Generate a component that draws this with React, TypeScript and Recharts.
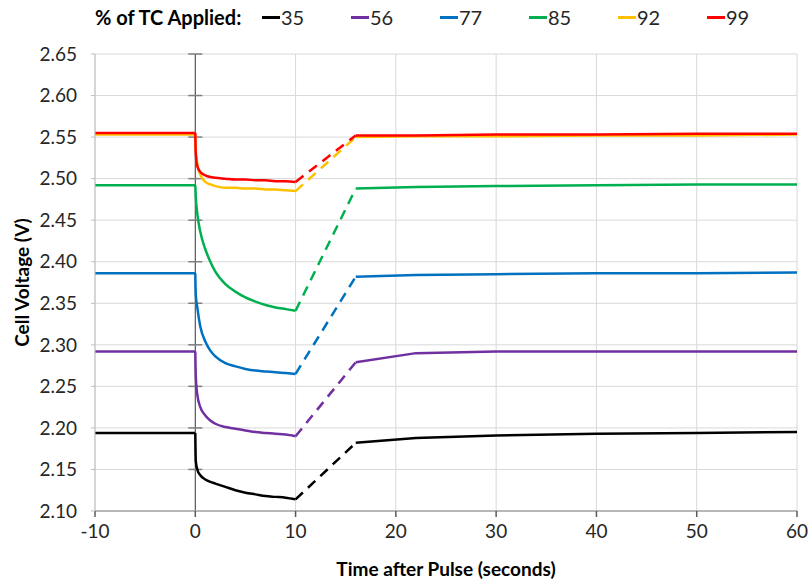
import React from "react";
import {
  LineChart,
  Line,
  XAxis,
  YAxis,
  CartesianGrid,
  ReferenceLine,
} from "recharts";

// time stamps (seconds after pulse)
const preTimes = [-10, 0];
const pulseTimes = [0, 0.05, 0.2, 0.5, 1, 1.5, 2, 3, 4, 5, 6, 7, 8, 9, 10];
const recoveryTimes = [16, 22, 30, 40, 50, 60];

const xTicks = [-10, 0, 10, 20, 30, 40, 50, 60];
const yTicks = [2.1, 2.15, 2.2, 2.25, 2.3, 2.35, 2.4, 2.45, 2.5, 2.55, 2.6, 2.65];

const seriesNames = ["35", "56", "77", "85", "92", "99"];
const seriesColors = ["#000000", "#7030a0", "#0070c0", "#00b050", "#ffc000", "#ff0000"];

const baseline35 = 2.194;
const pulse35 = [2.194, 2.16, 2.15, 2.143, 2.138, 2.135, 2.133, 2.129, 2.125, 2.122, 2.12, 2.118, 2.117, 2.116, 2.114];
const recovery35 = [2.182, 2.188, 2.191, 2.193, 2.194, 2.195];

const baseline56 = 2.292;
const pulse56 = [2.292, 2.262, 2.24, 2.225, 2.215, 2.209, 2.205, 2.201, 2.199, 2.197, 2.195, 2.194, 2.193, 2.192, 2.19];
const recovery56 = [2.279, 2.29, 2.292, 2.292, 2.292, 2.292];

const baseline77 = 2.386;
const pulse77 = [2.386, 2.36, 2.345, 2.322, 2.304, 2.293, 2.286, 2.278, 2.274, 2.271, 2.269, 2.268, 2.267, 2.266, 2.265];
const recovery77 = [2.382, 2.384, 2.385, 2.386, 2.386, 2.387];

const baseline85 = 2.492;
const pulse85 = [2.492, 2.478, 2.458, 2.436, 2.415, 2.4, 2.388, 2.373, 2.364, 2.357, 2.352, 2.348, 2.345, 2.343, 2.341];
const recovery85 = [2.488, 2.49, 2.491, 2.492, 2.493, 2.493];

const baseline92 = 2.553;
const pulse92 = [2.553, 2.535, 2.518, 2.505, 2.496, 2.493, 2.491, 2.489, 2.489, 2.488, 2.488, 2.487, 2.487, 2.486, 2.485];
const recovery92 = [2.55, 2.551, 2.551, 2.552, 2.552, 2.553];

const baseline99 = 2.555;
const pulse99 = [2.555, 2.53, 2.515, 2.508, 2.504, 2.502, 2.501, 2.5, 2.499, 2.499, 2.498, 2.498, 2.497, 2.497, 2.496];
const recovery99 = [2.552, 2.552, 2.553, 2.553, 2.554, 2.554];

const baselines = [baseline35, baseline56, baseline77, baseline85, baseline92, baseline99];
const pulses = [pulse35, pulse56, pulse77, pulse85, pulse92, pulse99];
const recoveries = [recovery35, recovery56, recovery77, recovery85, recovery92, recovery99];

const FONT = "Lato, 'Open Sans', sans-serif";

const series = seriesNames.map((name, i) => {
  const before = preTimes.map((t) => ({ t, v: baselines[i] }));
  const pulse = pulseTimes.map((t, j) => ({ t, v: pulses[i][j] }));
  const after = recoveryTimes.map((t, j) => ({ t, v: recoveries[i][j] }));
  const dashed = [pulse[pulse.length - 1], after[0]];
  return { name, color: seriesColors[i], before, pulse, dashed, after };
});

function LegendRow() {
  return (
    <div
      style={{
        position: "absolute",
        left: 95,
        top: 4,
        display: "flex",
        alignItems: "center",
        fontFamily: FONT,
        fontSize: 20,
        height: 26,
      }}
    >
      <span style={{ fontWeight: 700, color: "#000", width: 167 }}>% of TC Applied:</span>
      {series.map((s) => (
        <span key={s.name} style={{ display: "flex", alignItems: "center", width: 89 }}>
          <span style={{ display: "inline-block", width: 18, height: 3, background: s.color, marginRight: 1 }} />
          <span style={{ color: "#262626" }}>{s.name}</span>
        </span>
      ))}
    </div>
  );
}

export default function App() {
  return (
    <div style={{ position: "absolute", left: 0, top: 0, width: 812, height: 588, background: "#fff" }}>
      <LegendRow />
      <LineChart width={812} height={588} margin={{ top: 54, right: 15, left: 0, bottom: 0 }}>
        <CartesianGrid stroke="#d9d9d9" strokeWidth={1} />
        <XAxis
          type="number"
          dataKey="t"
          domain={[-10, 60]}
          ticks={xTicks}
          height={77}
          tickSize={6}
          tickMargin={8}
          stroke="#a6a6a6"
          strokeWidth={1.5}
          tickLine={{ stroke: "#595959" }}
          tick={{ fill: "#262626", fontSize: 19, fontFamily: FONT }}
          label={{
            value: "Time after Pulse (seconds)",
            position: "insideBottom",
            offset: 12,
            style: { fill: "#000", fontSize: 19, fontWeight: 700, fontFamily: FONT },
          }}
        />
        <YAxis
          type="number"
          domain={[2.1, 2.65]}
          ticks={yTicks}
          width={95}
          tickSize={4}
          tickMargin={14}
          stroke="#bfbfbf"
          tickFormatter={(v: number) => v.toFixed(2)}
          tick={{ fill: "#262626", fontSize: 19, fontFamily: FONT }}
          label={{
            value: "Cell Voltage (V)",
            angle: -90,
            position: "insideLeft",
            offset: 22,
            style: { fill: "#000", fontSize: 19, fontWeight: 700, fontFamily: FONT, textAnchor: "middle" },
          }}
        />
        <ReferenceLine x={0} stroke="#404040" strokeWidth={1} />
        {yTicks.slice(1).map((v) => (
          <ReferenceLine
            key={v}
            segment={[
              { x: -0.7, y: v },
              { x: 0.7, y: v },
            ]}
            stroke="#7f7f7f"
            strokeWidth={1.5}
          />
        ))}
        {series.map((s) => [
          <Line
            key={s.name + "a"}
            data={s.before}
            dataKey="v"
            type="linear"
            stroke={s.color}
            strokeWidth={2.5}
            dot={false}
            isAnimationActive={false}
          />,
          <Line
            key={s.name + "p"}
            data={s.pulse}
            dataKey="v"
            type="monotone"
            stroke={s.color}
            strokeWidth={2.5}
            dot={false}
            isAnimationActive={false}
          />,
          <Line
            key={s.name + "b"}
            data={s.dashed}
            dataKey="v"
            type="linear"
            stroke={s.color}
            strokeWidth={2.5}
            strokeDasharray="10 7"
            dot={false}
            isAnimationActive={false}
          />,
          <Line
            key={s.name + "c"}
            data={s.after}
            dataKey="v"
            type="linear"
            stroke={s.color}
            strokeWidth={2.5}
            dot={false}
            isAnimationActive={false}
          />,
        ])}
      </LineChart>
    </div>
  );
}
